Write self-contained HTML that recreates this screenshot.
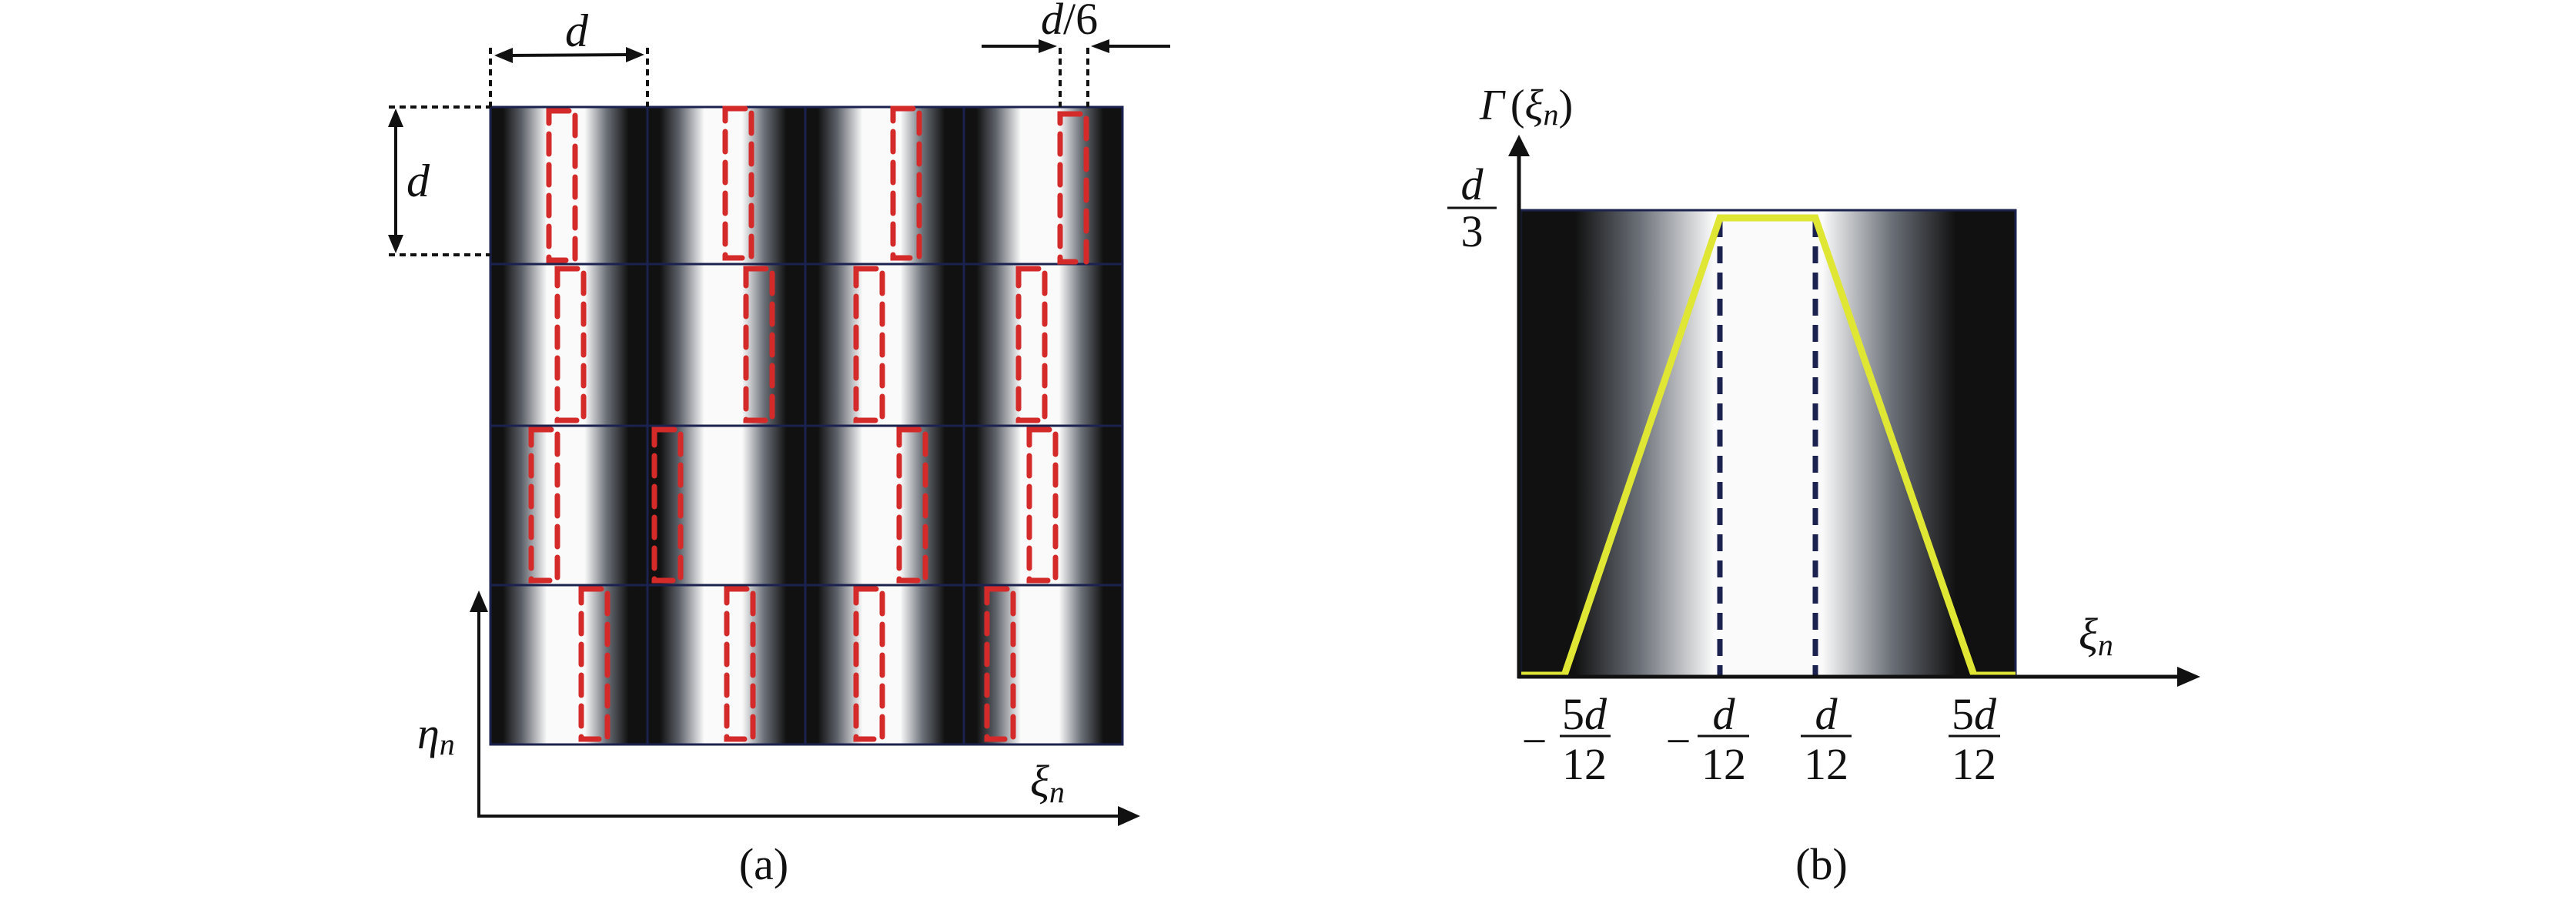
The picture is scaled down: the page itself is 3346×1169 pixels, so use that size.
<!DOCTYPE html>
<html><head><meta charset="utf-8"><style>
html,body{margin:0;padding:0;background:#fff;}
svg{display:block;}
text{font-family:"Liberation Serif",serif;fill:#111;}
.i{font-style:italic;}
</style></head><body>
<svg width="3346" height="1169" viewBox="0 0 3346 1169" xmlns="http://www.w3.org/2000/svg">
<defs>
<linearGradient id="g" x1="0" y1="0" x2="1" y2="0">
<stop offset="0" stop-color="#111"/>
<stop offset="0.08" stop-color="#111"/>
<stop offset="0.2" stop-color="#5d6169"/>
<stop offset="0.36" stop-color="#fafafa"/>
<stop offset="0.6" stop-color="#fafafa"/>
<stop offset="0.74" stop-color="#6b7078"/>
<stop offset="0.88" stop-color="#111"/>
<stop offset="1" stop-color="#111"/>
</linearGradient>
<linearGradient id="g2" x1="0" y1="0" x2="1" y2="0">
<stop offset="0" stop-color="#111"/>
<stop offset="0.11" stop-color="#111"/>
<stop offset="0.24" stop-color="#6b7078"/>
<stop offset="0.39" stop-color="#fafafa"/>
<stop offset="0.61" stop-color="#fafafa"/>
<stop offset="0.75" stop-color="#6b7078"/>
<stop offset="0.88" stop-color="#111"/>
<stop offset="1" stop-color="#111"/>
</linearGradient>
</defs>

<g stroke="#1c2250" stroke-width="3">
<rect x="637" y="139" width="204" height="204" fill="url(#g)"/>
<rect x="841" y="139" width="205" height="204" fill="url(#g)"/>
<rect x="1046" y="139" width="206" height="204" fill="url(#g)"/>
<rect x="1252" y="139" width="206" height="204" fill="url(#g)"/>
<rect x="637" y="343" width="204" height="210" fill="url(#g)"/>
<rect x="841" y="343" width="205" height="210" fill="url(#g)"/>
<rect x="1046" y="343" width="206" height="210" fill="url(#g)"/>
<rect x="1252" y="343" width="206" height="210" fill="url(#g)"/>
<rect x="637" y="553" width="204" height="207" fill="url(#g)"/>
<rect x="841" y="553" width="205" height="207" fill="url(#g)"/>
<rect x="1046" y="553" width="206" height="207" fill="url(#g)"/>
<rect x="1252" y="553" width="206" height="207" fill="url(#g)"/>
<rect x="637" y="760" width="204" height="207" fill="url(#g)"/>
<rect x="841" y="760" width="205" height="207" fill="url(#g)"/>
<rect x="1046" y="760" width="206" height="207" fill="url(#g)"/>
<rect x="1252" y="760" width="206" height="207" fill="url(#g)"/>
</g>
<g fill="none" stroke="#d42a2a" stroke-width="7" stroke-dasharray="26 14" stroke-linecap="round">
<rect x="713" y="144" width="34" height="194"/>
<rect x="942" y="141" width="34" height="194"/>
<rect x="1160" y="141" width="34" height="194"/>
<rect x="1377" y="148" width="34" height="192"/>
<rect x="724" y="349" width="34" height="197"/>
<rect x="969" y="349" width="34" height="197"/>
<rect x="1112" y="349" width="34" height="197"/>
<rect x="1323" y="349" width="34" height="197"/>
<rect x="690" y="558" width="34" height="196"/>
<rect x="850" y="558" width="34" height="196"/>
<rect x="1168" y="558" width="34" height="196"/>
<rect x="1337" y="558" width="34" height="196"/>
<rect x="755" y="765" width="34" height="195"/>
<rect x="944" y="765" width="34" height="195"/>
<rect x="1112" y="765" width="34" height="195"/>
<rect x="1282" y="765" width="34" height="195"/>
</g>

<g stroke="#111" stroke-width="4" stroke-dasharray="8 6" fill="none">
<line x1="637" y1="62" x2="637" y2="139"/>
<line x1="841" y1="62" x2="841" y2="139"/>
<line x1="505" y1="139" x2="637" y2="139"/>
<line x1="505" y1="331" x2="637" y2="331"/>
<line x1="1377" y1="62" x2="1377" y2="139"/>
<line x1="1413" y1="62" x2="1413" y2="139"/>
</g>
<g stroke="#111" stroke-width="4">
<line x1="660" y1="72" x2="818" y2="71"/>
<line x1="514" y1="160" x2="514" y2="310"/>
<line x1="1275" y1="60" x2="1352" y2="60"/>
<line x1="1438" y1="60" x2="1520" y2="60"/>
<line x1="622" y1="790" x2="622" y2="1060"/>
<line x1="620" y1="1060" x2="1455" y2="1060"/>
</g>
<g fill="#111">
<polygon points="642,72 666,62 666,82"/>
<polygon points="837,71 813,61 813,81"/>
<polygon points="514,141 504,165 524,165"/>
<polygon points="514,329 504,305 524,305"/>
<polygon points="1373,60 1349,51 1349,69"/>
<polygon points="1417,60 1441,51 1441,69"/>
<polygon points="622,767 610,795 634,795"/>
<polygon points="1481,1060 1452,1047 1452,1073"/>
</g>
<text x="734" y="60" font-size="60" class="i">d</text>
<text x="528" y="255" font-size="60" class="i">d</text>
<text x="1352" y="44" font-size="58"><tspan class="i">d</tspan>/6</text>
<text x="542" y="972" font-size="58" class="i">η<tspan font-size="40" dy="8">n</tspan></text>
<text x="1338" y="1034" font-size="58" class="i">ξ<tspan font-size="40" dy="8">n</tspan></text>
<text x="992" y="1142" font-size="58" text-anchor="middle">(a)</text>

<rect x="1975" y="273" width="643" height="606" fill="url(#g2)" stroke="#1c2250" stroke-width="3"/>
<g stroke="#1c2250" stroke-width="7" stroke-dasharray="22 12">
<line x1="2234" y1="286" x2="2234" y2="879"/>
<line x1="2358" y1="286" x2="2358" y2="879"/>
</g>
<polyline points="1976,877 2032,877 2234,283 2358,283 2564,877 2618,877" fill="none" stroke="#dfe633" stroke-width="9"/>
<g stroke="#111" stroke-width="5">
<line x1="1973" y1="200" x2="1973" y2="881"/>
<line x1="1971" y1="879" x2="2830" y2="879"/>
</g>
<g fill="#111">
<polygon points="1973,175 1959,203 1987,203"/>
<polygon points="2858,879 2828,866 2828,892"/>
</g>
<text x="1922" y="155" font-size="56" class="i">Γ<tspan font-style="normal" dx="8">(</tspan>ξ<tspan font-size="40" dy="7">n</tspan><tspan font-style="normal" dy="-7">)</tspan></text>
<line x1="1880" y1="270" x2="1944" y2="270" stroke="#111" stroke-width="3"/>
<text x="1912" y="259" font-size="58" class="i" text-anchor="middle">d</text>
<text x="1912" y="320" font-size="58" text-anchor="middle">3</text>
<text x="2700" y="843" font-size="58" class="i">ξ<tspan font-size="40" dy="8">n</tspan></text>

<g font-size="58" text-anchor="middle">
<text x="1993" y="982">−</text>
<text x="2058" y="947"><tspan>5</tspan><tspan class="i">d</tspan></text>
<text x="2058" y="1012">12</text>
<text x="2180" y="982">−</text>
<text x="2239" y="947" class="i">d</text>
<text x="2239" y="1012">12</text>
<text x="2372" y="947" class="i">d</text>
<text x="2372" y="1012">12</text>
<text x="2564" y="947"><tspan>5</tspan><tspan class="i">d</tspan></text>
<text x="2564" y="1012">12</text>
</g>
<g stroke="#111" stroke-width="3">
<line x1="2026" y1="956" x2="2092" y2="956"/>
<line x1="2205" y1="956" x2="2272" y2="956"/>
<line x1="2339" y1="956" x2="2405" y2="956"/>
<line x1="2531" y1="956" x2="2598" y2="956"/>
</g>
<text x="2366" y="1142" font-size="58" text-anchor="middle">(b)</text>
</svg>
</body></html>
